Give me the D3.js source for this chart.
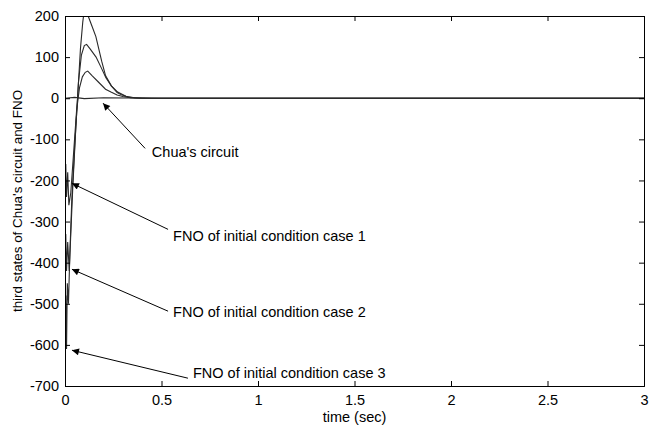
<!DOCTYPE html>
<html>
<head>
<meta charset="utf-8">
<script src="https://cdn.jsdelivr.net/npm/d3@7"></script>
<style>
  body { margin: 0; background: white; }
  text { font-family: "Liberation Sans", Arial, sans-serif; fill: black; }
</style>
</head>
<body>
<div id="container"></div>
<script>
// FNO vs Chua's circuit, third state over time

// time (sec) and third-state values
const chuaT = [0, 0.05, 0.1, 0.2, 0.5, 1, 2, 3],
      chuaV = [0, 2, -1, 1, 0, 0, 0, 0];

const case1T = [0, 0.004, 0.008, 0.014, 0.02, 0.03, 0.045, 0.06, 0.075, 0.09, 0.105, 0.118, 0.14, 0.178, 0.21, 0.238, 0.27, 0.3, 0.34, 0.4, 1, 3],
      case1V = [-200, -160, -240, -180, -260, -230, -130, -30, 25, 52, 63, 66, 55, 37, 22, 15, 8, 4, 1, 0, 0, 0];

const case2T = [0, 0.004, 0.008, 0.014, 0.022, 0.03, 0.04, 0.055, 0.07, 0.085, 0.1, 0.112, 0.13, 0.161, 0.19, 0.212, 0.24, 0.273, 0.316, 0.36, 0.45, 1, 3],
      case2V = [-400, -330, -420, -350, -420, -330, -220, -80, 40, 105, 128, 131, 120, 100, 72, 50, 30, 15, 5, 1, 0, 0, 0];

const case3T = [0, 0.004, 0.008, 0.012, 0.018, 0.025, 0.035, 0.05, 0.065, 0.08, 0.092, 0.1, 0.11, 0.12, 0.14, 0.16, 0.19, 0.21, 0.24, 0.27, 0.29, 0.33, 0.4, 1, 3],
      case3V = [-600, -480, -610, -450, -500, -380, -250, -120, 0, 120, 185, 215, 225, 200, 175, 150, 90, 55, 30, 14, 9, 2, 0, 0, 0];

const xTicks = [0, 0.5, 1, 1.5, 2, 2.5, 3],
      yTicks = [200, 100, 0, -100, -200, -300, -400, -500, -600, -700];

// annotations: label, arrow tip, arrow tail, text anchor (data units)
const noteLabels = ["Chua's circuit", "FNO of initial condition case 1", "FNO of initial condition case 2", "FNO of initial condition case 3"],
      noteTips   = [[0.197, -12], [0.036, -207], [0.036, -416], [0.036, -613]],
      noteTails  = [[0.415, -122], [0.534, -319], [0.534, -518], [0.637, -681]],
      noteText   = [[0.45, -131], [0.56, -336], [0.56, -521], [0.663, -669]];

var width = 659,
    height = 429,
    margin = {top: 16, right: 15, bottom: 43, left: 65};

var svg = d3.select("#container").append("svg")
	.attr("width", width)
	.attr("height", height);

var x = d3.scaleLinear()
	.domain([0, 3])
	.range([margin.left, width - margin.right]);

var y = d3.scaleLinear()
	.domain([-700, 200])
	.range([height - margin.bottom, margin.top]);

svg.append("defs").append("clipPath")
	.attr("id", "plot-clip")
	.append("rect")
	.attr("x", x(0))
	.attr("y", y(200))
	.attr("width", x(3) - x(0))
	.attr("height", y(-700) - y(200));

svg.append("defs").append("marker")
	.attr("id", "arrowhead")
	.attr("viewBox", "0 0 10 10")
	.attr("refX", 10)
	.attr("refY", 5)
	.attr("markerWidth", 9)
	.attr("markerHeight", 7)
	.attr("markerUnits", "userSpaceOnUse")
	.attr("orient", "auto")
	.append("path")
	.attr("d", "M0,0L10,5L0,10z")
	.attr("fill", "black");

// series
var line = d3.line()
    .x(d => x(d[0]))
    .y(d => y(d[1]));

var series = [
    d3.zip(chuaT, chuaV),
    d3.zip(case1T, case1V),
    d3.zip(case2T, case2V),
    d3.zip(case3T, case3V)
];

svg.append("g")
	.attr("clip-path", "url(#plot-clip)")
	.selectAll("path")
	.data(series)
	.enter()
	.append("path")
	.attr("d", line)
	.attr("fill", "none")
	.attr("stroke", "#2a2a2a")
	.attr("stroke-width", 1.1);

// axes, matlab style box with inward ticks
var fmt = d => String(d);

svg.append("g")
	.attr("transform", "translate(0," + y(-700) + ")")
	.call(d3.axisBottom(x).tickValues(xTicks).tickSize(-5).tickPadding(9).tickFormat(fmt));

svg.append("g")
	.attr("transform", "translate(0," + y(200) + ")")
	.call(d3.axisTop(x).tickValues(xTicks).tickSize(-5).tickFormat(""));

svg.append("g")
	.attr("transform", "translate(" + x(0) + ",0)")
	.call(d3.axisLeft(y).tickValues(yTicks).tickSize(-5).tickPadding(6).tickFormat(fmt));

svg.append("g")
	.attr("transform", "translate(" + x(3) + ",0)")
	.call(d3.axisRight(y).tickValues(yTicks).tickSize(-5).tickFormat(""));

svg.selectAll(".domain").attr("stroke", "black");
svg.selectAll(".tick line").attr("stroke", "black");
svg.selectAll(".tick text")
	.style("font-size", "14.5px")
	.style("font-family", "'Liberation Sans', Arial, sans-serif");

// axis titles
svg.append("text")
	.attr("x", (x(0) + x(3)) / 2)
	.attr("y", 422)
	.attr("text-anchor", "middle")
	.style("font-size", "14.5px")
	.text("time (sec)");

svg.append("text")
	.attr("transform", "translate(22," + (y(200) + y(-700)) / 2 + ") rotate(-90)")
	.attr("text-anchor", "middle")
	.style("font-size", "13.4px")
	.text("third states of Chua's circuit and FNO");

// annotations
var notes = svg.append("g");

noteLabels.forEach(function(label, i){
    notes.append("line")
	.attr("x1", x(noteTails[i][0]))
	.attr("y1", y(noteTails[i][1]))
	.attr("x2", x(noteTips[i][0]))
	.attr("y2", y(noteTips[i][1]))
	.attr("stroke", "black")
	.attr("stroke-width", 1)
	.attr("marker-end", "url(#arrowhead)");

    notes.append("text")
	.attr("x", x(noteText[i][0]))
	.attr("y", y(noteText[i][1]))
	.attr("dy", "0.35em")
	.style("font-size", "14.5px")
	.text(label);
});
</script>
</body>
</html>
